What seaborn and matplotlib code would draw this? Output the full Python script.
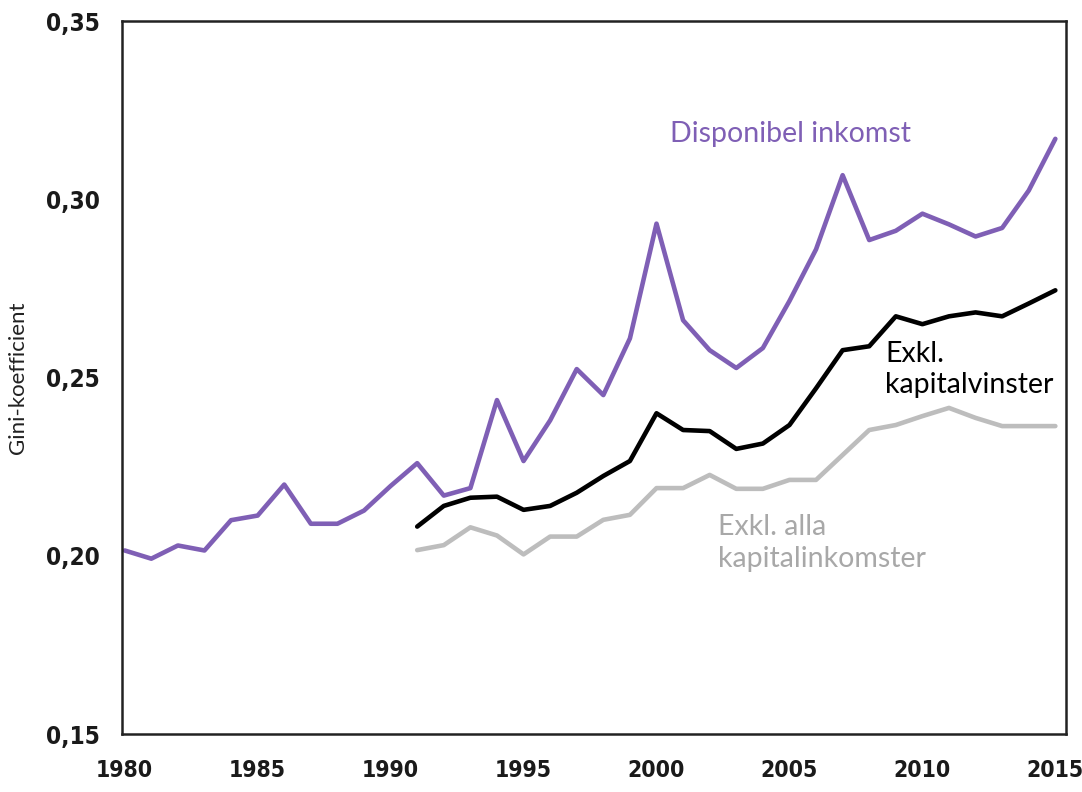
import numpy as np
import pandas as pd
import matplotlib
matplotlib.use("Agg")
import matplotlib.pyplot as plt
import seaborn as sns
from matplotlib.ticker import FuncFormatter

years_disp = list(range(1980, 2016))
disp = [0.2015, 0.1992, 0.2029, 0.2015, 0.2100, 0.2113, 0.2200, 0.2090, 0.2090, 0.2127,
        0.2196, 0.2260, 0.2169, 0.2190, 0.2437, 0.2266, 0.2380, 0.2524, 0.2451, 0.2610,
        0.2932, 0.2661, 0.2577, 0.2527, 0.2583, 0.2715, 0.2860, 0.3068, 0.2886, 0.2912,
        0.2960, 0.2930, 0.2896, 0.2920, 0.3025, 0.3170]

years_sub = list(range(1991, 2016))
excl_gains = [0.2082, 0.2140, 0.2163, 0.2166, 0.2129, 0.2140, 0.2177, 0.2224, 0.2266,
              0.2400, 0.2353, 0.2350, 0.2300, 0.2315, 0.2367, 0.2470, 0.2577, 0.2588,
              0.2672, 0.2650, 0.2672, 0.2683, 0.2672, 0.2708, 0.2745]
excl_all = [0.2016, 0.2030, 0.2080, 0.2057, 0.2004, 0.2054, 0.2054, 0.2101, 0.2115,
            0.2190, 0.2190, 0.2227, 0.2188, 0.2188, 0.2213, 0.2213, 0.2283, 0.2353,
            0.2367, 0.2392, 0.2415, 0.2387, 0.2364, 0.2364, 0.2364]

labels = ["Disponibel inkomst", "Exkl.\nkapitalvinster", "Exkl. alla\nkapitalinkomster"]
x_ticks = [1980, 1985, 1990, 1995, 2000, 2005, 2010, 2015]
y_ticks = [0.15, 0.20, 0.25, 0.30, 0.35]

purple = "#7f5fb5"
gray = "#bdbdbd"

sns.set_style("white")
plt.rcParams['font.family'] = ['Lato', 'DejaVu Sans']

fig = plt.figure(figsize=(10.82, 7.92), dpi=100)
ax = fig.add_axes([0.1128, 0.0732, 0.8724, 0.9])

sns.lineplot(x=years_sub, y=excl_all, ax=ax, color=gray, linewidth=3.3)
sns.lineplot(x=years_sub, y=excl_gains, ax=ax, color="black", linewidth=3.3)
sns.lineplot(x=years_disp, y=disp, ax=ax, color=purple, linewidth=3.3)

ax.set_xlim(1979.9, 2015.4)
ax.set_ylim(0.15, 0.35)
ax.set_xticks(x_ticks)
ax.set_yticks(y_ticks)
ax.yaxis.set_major_formatter(FuncFormatter(lambda v, p: f"{v:.2f}".replace(".", ",")))
for lab in ax.get_yticklabels():
    lab.set_fontfamily(['DejaVu Sans'])
    lab.set_fontstretch('condensed')
    lab.set_fontweight('bold')
    lab.set_fontsize(17.5)
    lab.set_color("#1a1a1a")
for lab in ax.get_xticklabels():
    lab.set_fontfamily(['DejaVu Sans'])
    lab.set_fontstretch('condensed')
    lab.set_fontweight('bold')
    lab.set_fontsize(16.5)
    lab.set_color("#1a1a1a")
ax.tick_params(axis='x', length=0, pad=18)
ax.tick_params(axis='y', length=0, pad=16)
for s in ax.spines.values():
    s.set_visible(True)
    s.set_color("#222222")
    s.set_linewidth(1.8)

ax.set_ylabel("Gini-koefficient", fontsize=16, color="#222222", labelpad=13)
ax.set_xlabel("")

ax.text(2000.5, 0.3183, labels[0], color=purple, fontsize=20.5, ha='left', va='center')
ax.text(2008.6, 0.2522, labels[1], color="black", fontsize=20.5, ha='left', va='center',
        linespacing=1.25)
ax.text(2002.3, 0.2036, labels[2], color="#a8a8a8", fontsize=20.5, ha='left', va='center',
        linespacing=1.25)

fig.savefig("out.png", dpi=100)
